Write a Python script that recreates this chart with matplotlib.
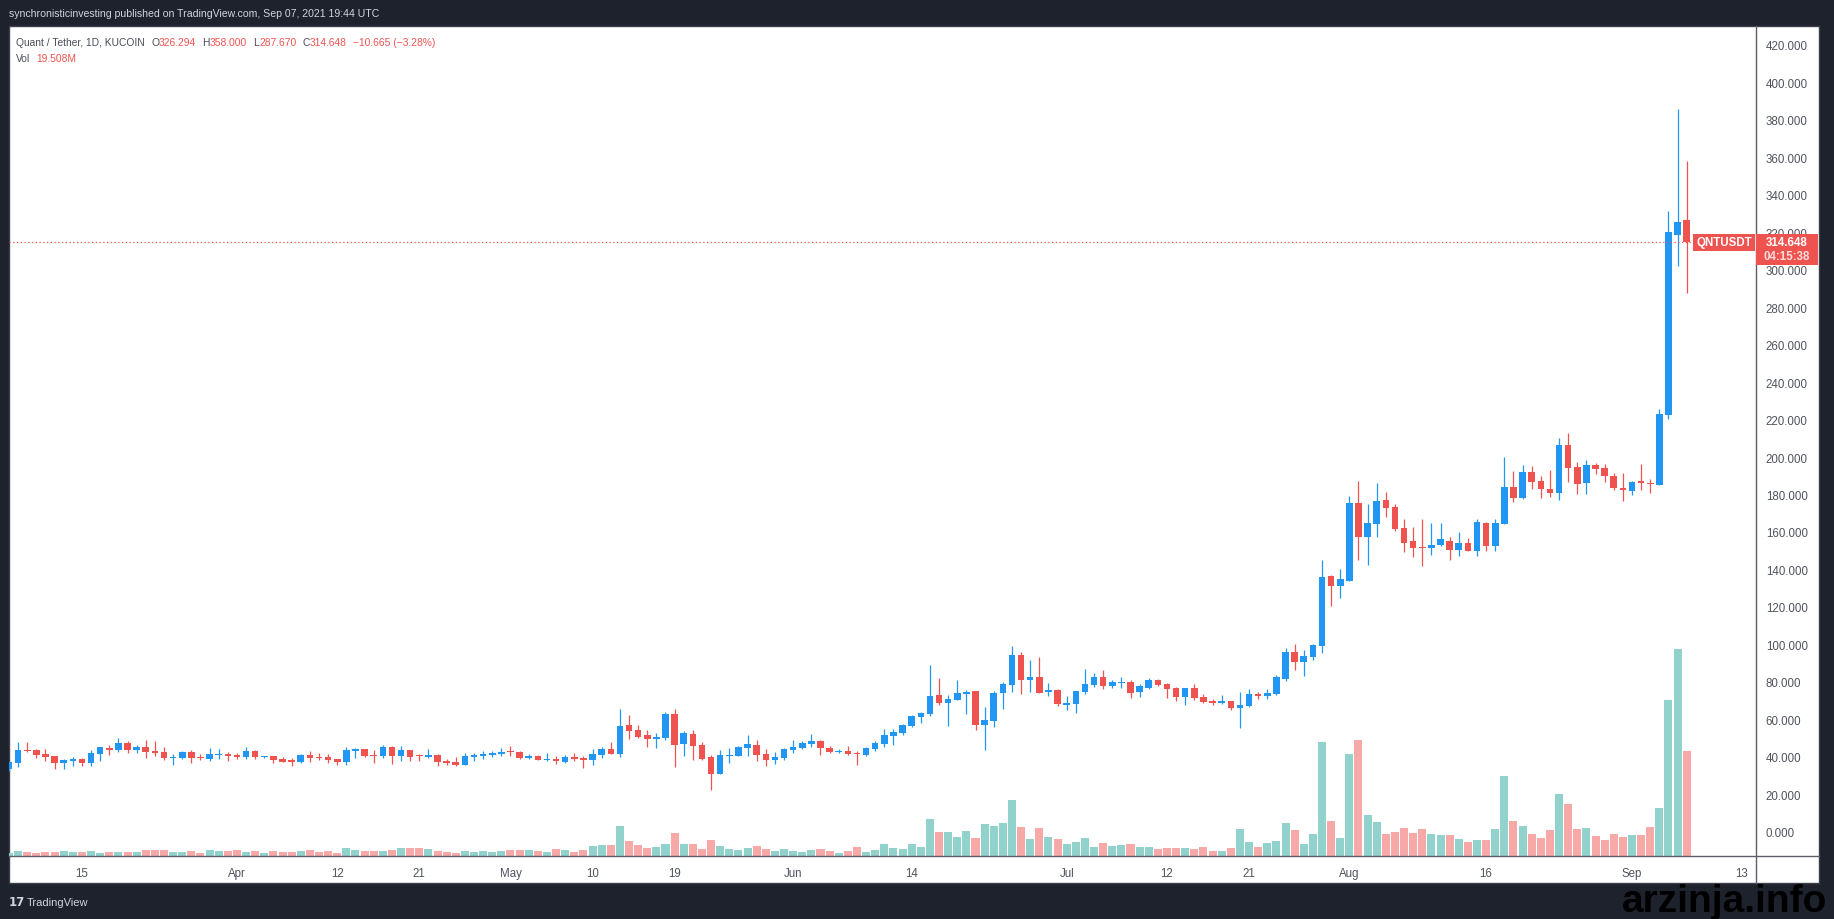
import matplotlib
matplotlib.use('Agg')
import matplotlib.pyplot as plt
from matplotlib.patches import Rectangle
from matplotlib.lines import Line2D
import numpy as np
import pandas as pd

plt.rcParams['font.family'] = ['Liberation Sans', 'DejaVu Sans']

# QNT/USDT daily candles, 2021-03-07 .. 2021-09-07 (volume in millions)
start_date = '2021-03-07'
opens = [
    33.5, 36.9, 43.6, 43.6, 41.5, 40.5, 36.9, 38.0, 38.9, 36.9,
    41.5, 44.7, 43.6, 47.4, 43.6, 45.2, 43.1, 42.6, 39.4, 39.4,
    42.6, 39.9, 38.9, 41.0, 41.5, 41.0, 39.9, 43.1, 39.9, 40.5,
    38.9, 38.3, 37.2, 41.0, 39.9, 39.9, 38.9, 37.2, 43.1, 44.2,
    41.0, 40.5, 45.2, 40.5, 43.6, 41.0, 39.9, 41.0, 37.8, 37.2,
    35.6, 39.9, 40.5, 41.0, 41.5, 42.6, 42.6, 39.4, 40.5, 38.3,
    38.9, 37.2, 39.9, 39.4, 38.3, 41.0, 44.2, 41.5, 57.0, 54.3,
    51.7, 49.5, 50.0, 62.9, 46.9, 52.2, 46.3, 39.9, 30.8, 40.5,
    40.5, 44.7, 46.3, 41.5, 38.3, 39.4, 43.6, 44.7, 46.9, 48.5,
    44.7, 42.6, 43.1, 42.0, 41.0, 44.2, 46.9, 51.1, 52.7, 56.5,
    61.3, 62.9, 73.0, 68.7, 70.3, 73.5, 75.1, 57.0, 59.1, 74.1,
    78.3, 94.3, 81.0, 82.6, 74.6, 75.7, 67.7, 68.2, 74.6, 78.3,
    82.6, 77.8, 79.6, 79.9, 74.6, 76.7, 81.0, 78.9, 76.7, 71.9,
    76.7, 71.9, 69.8, 68.7, 69.8, 66.1, 67.1, 73.5, 72.5, 73.5,
    81.5, 95.9, 90.6, 93.3, 99.1, 136.5, 131.2, 133.8, 175.4, 157.3,
    164.3, 177.1, 173.3, 162.1, 155.2, 152.0, 151.4, 153.0, 155.2, 150.4,
    154.1, 149.8, 164.8, 152.5, 164.3, 184.0, 178.1, 192.0, 187.2, 182.9,
    180.8, 206.4, 194.6, 186.1, 195.7, 194.1, 189.8, 183.4, 181.8, 187.2,
    186.1, 185.0, 222.4, 318.4, 326.294,
]
highs = [
    37.4, 48.1, 48.1, 44.2, 44.2, 40.5, 38.9, 40.1, 39.4, 43.6,
    45.2, 46.3, 50.1, 48.5, 46.3, 49.0, 48.5, 45.2, 41.5, 43.1,
    43.6, 41.5, 44.7, 44.2, 42.6, 42.1, 45.2, 43.6, 40.5, 40.5,
    39.9, 39.4, 41.5, 43.1, 42.1, 41.5, 38.9, 45.2, 44.7, 44.2,
    43.6, 46.3, 45.8, 45.8, 43.6, 41.5, 44.2, 41.5, 38.9, 39.9,
    42.1, 42.1, 43.1, 43.1, 44.7, 45.8, 43.1, 41.5, 41.0, 42.1,
    40.5, 41.0, 42.1, 40.5, 44.2, 45.2, 47.9, 65.5, 62.3, 57.0,
    54.3, 52.7, 63.9, 65.5, 53.8, 54.3, 47.9, 41.0, 43.6, 44.7,
    45.8, 51.7, 49.0, 44.2, 42.6, 44.7, 49.0, 48.5, 52.2, 49.0,
    45.8, 44.2, 45.8, 43.1, 45.2, 48.5, 54.9, 54.9, 57.5, 62.3,
    63.9, 89.0, 82.1, 73.0, 81.0, 75.7, 75.1, 66.6, 75.1, 79.9,
    99.1, 95.9, 91.7, 93.3, 79.4, 76.2, 72.5, 75.1, 86.9, 84.7,
    86.3, 81.0, 82.6, 81.0, 78.9, 82.1, 81.5, 79.4, 77.3, 76.7,
    78.9, 73.5, 70.9, 73.0, 69.8, 74.6, 76.2, 74.6, 76.2, 83.7,
    98.1, 100.2, 97.0, 100.2, 145.0, 137.0, 140.2, 179.2, 187.2, 174.9,
    186.1, 181.3, 174.9, 166.9, 162.6, 166.9, 164.8, 164.8, 157.3, 160.0,
    156.8, 166.9, 165.3, 166.9, 200.0, 192.5, 195.7, 195.2, 189.9, 193.1,
    210.1, 212.8, 197.3, 198.4, 196.8, 196.2, 191.4, 191.4, 187.2, 196.2,
    188.2, 225.6, 331.3, 385.7, 358.0,
]
lows = [
    32.6, 34.8, 42.8, 39.6, 38.0, 33.7, 33.7, 35.3, 35.3, 35.3,
    38.0, 41.0, 42.6, 42.1, 42.1, 39.4, 40.5, 38.3, 35.6, 38.9,
    36.9, 38.3, 38.0, 38.9, 37.8, 38.9, 38.9, 38.9, 39.4, 36.9,
    37.2, 35.3, 36.9, 37.2, 38.3, 36.9, 35.6, 35.6, 39.4, 39.9,
    36.7, 39.4, 36.2, 37.8, 37.8, 37.8, 39.4, 35.1, 35.6, 35.1,
    35.6, 37.8, 38.9, 39.9, 40.5, 40.5, 38.9, 38.9, 38.3, 37.8,
    36.2, 36.7, 37.8, 34.0, 35.6, 39.4, 41.5, 39.9, 49.5, 50.1,
    45.2, 44.7, 49.0, 34.6, 40.4, 38.3, 38.3, 22.3, 30.8, 36.7,
    40.5, 40.5, 37.8, 35.1, 36.2, 38.3, 42.0, 44.2, 45.2, 41.0,
    42.0, 42.0, 41.0, 35.6, 40.4, 43.1, 45.2, 46.3, 51.7, 55.9,
    58.1, 62.0, 67.7, 56.5, 70.3, 62.9, 54.3, 43.6, 55.9, 65.5,
    74.6, 73.5, 74.6, 74.1, 72.5, 67.1, 65.0, 63.4, 73.5, 77.3,
    76.2, 76.7, 76.7, 71.4, 71.9, 76.2, 77.8, 71.4, 69.8, 67.7,
    70.3, 68.7, 67.7, 68.2, 65.0, 55.4, 66.6, 70.9, 70.9, 73.0,
    80.5, 86.3, 83.1, 91.7, 95.4, 120.5, 124.8, 133.8, 145.0, 142.4,
    157.3, 168.0, 160.5, 149.3, 146.6, 141.8, 147.7, 152.5, 145.0, 147.2,
    149.8, 147.2, 149.8, 149.8, 164.3, 176.0, 177.6, 182.9, 178.1, 178.6,
    177.0, 186.6, 180.2, 180.2, 190.9, 186.6, 182.4, 176.5, 179.7, 182.4,
    180.8, 185.0, 220.3, 301.9, 287.67,
]
closes = [
    37.4, 43.6, 43.1, 41.2, 39.9, 36.9, 38.3, 38.9, 36.9, 42.1,
    45.2, 43.6, 47.4, 43.6, 45.2, 42.6, 42.1, 39.4, 39.9, 42.6,
    39.4, 39.4, 41.5, 41.5, 40.5, 39.9, 43.1, 39.9, 40.5, 38.3,
    37.2, 37.2, 41.0, 39.4, 39.4, 38.3, 37.2, 43.6, 44.2, 40.5,
    40.5, 45.2, 40.5, 43.6, 39.9, 40.5, 41.0, 37.2, 36.7, 35.6,
    40.5, 41.0, 41.5, 42.1, 42.6, 42.4, 39.4, 40.5, 38.3, 38.9,
    37.8, 39.9, 38.9, 38.3, 41.5, 44.2, 41.5, 56.5, 53.8, 50.6,
    49.5, 50.6, 62.9, 46.3, 52.7, 45.8, 38.8, 30.8, 41.0, 41.0,
    45.2, 46.9, 41.0, 38.3, 39.9, 44.2, 45.2, 47.4, 48.5, 44.7,
    42.6, 43.3, 41.5, 41.5, 44.7, 47.4, 51.7, 53.3, 57.0, 61.8,
    63.4, 72.5, 68.7, 70.9, 74.1, 74.6, 57.0, 59.7, 74.1, 78.9,
    94.3, 81.0, 82.6, 74.1, 75.7, 68.2, 68.7, 75.1, 78.9, 82.6,
    77.8, 79.9, 79.9, 74.1, 77.8, 81.0, 78.3, 76.2, 71.9, 76.7,
    71.4, 69.3, 68.7, 69.8, 66.1, 67.7, 73.5, 72.5, 74.1, 82.6,
    95.9, 90.6, 93.8, 99.7, 135.9, 131.2, 134.9, 175.4, 157.3, 164.8,
    176.5, 172.8, 161.6, 154.1, 151.4, 151.4, 153.0, 156.2, 150.4, 154.1,
    149.8, 165.3, 152.5, 164.8, 184.0, 178.1, 192.0, 186.7, 182.9, 180.8,
    206.4, 194.1, 185.6, 195.7, 193.6, 189.8, 183.4, 182.4, 186.6, 186.1,
    185.6, 222.9, 320.0, 325.313, 314.648,
]
volumes = [
    0.50, 0.87, 0.68, 0.50, 0.68, 0.68, 0.87, 0.68, 0.68, 0.87,
    0.50, 0.68, 0.68, 0.68, 0.68, 1.05, 1.05, 1.05, 0.68, 0.68,
    0.87, 0.50, 1.05, 0.87, 0.87, 1.05, 0.68, 0.87, 0.50, 0.87,
    0.68, 0.68, 0.87, 1.05, 0.68, 0.87, 0.50, 1.42, 1.05, 0.87,
    0.87, 0.87, 1.05, 1.42, 1.42, 1.42, 1.24, 0.87, 0.68, 0.50,
    0.87, 0.68, 0.87, 0.68, 0.87, 1.05, 1.05, 1.05, 0.87, 0.68,
    1.24, 1.05, 0.68, 1.05, 1.80, 1.98, 1.98, 5.51, 2.72, 1.98,
    1.45, 1.67, 2.23, 4.27, 2.23, 2.23, 1.30, 2.97, 1.86, 1.30,
    1.11, 1.49, 1.86, 1.30, 0.93, 1.30, 0.93, 0.74, 1.11, 1.30,
    0.93, 0.56, 0.93, 1.67, 0.74, 1.11, 2.23, 1.49, 1.30, 2.23,
    1.67, 6.87, 4.46, 4.46, 3.53, 4.65, 3.34, 5.95, 5.57, 6.13,
    10.40, 5.39, 3.16, 5.20, 3.53, 3.16, 2.23, 2.60, 3.34, 1.67,
    2.42, 1.86, 2.04, 2.23, 1.67, 1.67, 1.30, 1.49, 1.49, 1.49,
    1.30, 1.67, 0.93, 0.93, 1.49, 5.02, 2.60, 1.67, 2.42, 2.79,
    6.13, 4.83, 2.23, 4.09, 21.20, 6.50, 3.34, 18.95, 21.55, 7.62,
    6.32, 4.09, 4.46, 5.20, 4.27, 5.02, 4.09, 3.90, 3.90, 3.16,
    2.60, 2.97, 2.97, 5.02, 14.86, 6.50, 5.57, 4.09, 3.34, 4.83,
    11.52, 9.66, 5.02, 5.20, 3.72, 2.97, 4.09, 3.53, 3.90, 3.90,
    5.39, 8.92, 28.98, 38.46, 19.508,
]

tick_dates = ['2021-03-15', '2021-04-01', '2021-04-12', '2021-04-21', '2021-05-01',
              '2021-05-10', '2021-05-19', '2021-06-01', '2021-06-14', '2021-07-01',
              '2021-07-12', '2021-07-21', '2021-08-01', '2021-08-16', '2021-09-01',
              '2021-09-13']
tick_labels = ['15', 'Apr', '12', '21', 'May', '10', '19', 'Jun', '14', 'Jul',
               '12', '21', 'Aug', '16', 'Sep', '13']
price_ticks = np.arange(0, 421, 20)

header = 'synchronisticinvesting published on TradingView.com, Sep 07, 2021 19:44 UTC'
symbol_title = 'Quant / Tether, 1D, KUCOIN'
countdown = '04:15:38'

UP = '#2196f3'
DOWN = '#ef5350'
VOL_UP = '#92d2cc'
VOL_DOWN = '#f7a9a7'
DARK = '#1e222d'
AXIS_TXT = '#50535e'
LEGEND_TXT = '#4a4e59'

W, H = 1834, 920

o = np.array(opens)
h = np.array(highs)
l = np.array(lows)
c = np.array(closes)
v = np.array(volumes)
days = pd.date_range(start_date, periods=len(o), freq='D')
x = np.arange(len(o))
up = c >= o
candle_col = np.where(up, UP, DOWN)
vol_col = np.where(up, VOL_UP, VOL_DOWN)
tick_pos = [(pd.Timestamp(d) - days[0]).days for d in tick_dates]


def fx(px):
    return px / W


def fy(py):
    return 1 - py / H


fig = plt.figure(figsize=(W / 100, H / 100), dpi=100, facecolor=DARK)

# white chart panel
fig.patches.append(Rectangle((fx(9), fy(884)), fx(1819) - fx(9), fy(27) - fy(884),
                             transform=fig.transFigure, facecolor='white',
                             edgecolor='#3c404b', lw=1, zorder=-1))

pos = [fx(9), fy(857), fx(1756) - fx(9), fy(27) - fy(857)]
ax_vol = fig.add_axes(pos)
ax = fig.add_axes(pos)
for a in (ax_vol, ax):
    a.set_facecolor('none')
    for s in a.spines.values():
        s.set_visible(False)
    a.set_xlim(0, 191.6)

# volume underlay
ax_vol.bar(x, v, width=0.88, color=vol_col, linewidth=0)
ax_vol.set_ylim(0, v.max() / 0.25)
ax_vol.set_xticks([])
ax_vol.set_yticks([])

# candles
body = np.maximum(np.abs(c - o), 0.55)
ax.vlines(x, l, h, colors=candle_col, lw=0.9)
ax.bar(x, body, bottom=np.minimum(o, c), width=0.72, color=candle_col, linewidth=0)
ax.set_ylim(-12.9, 430.0)

ax.yaxis.tick_right()
ax.set_yticks(price_ticks)
ax.set_yticklabels([f'{p:.3f}' for p in price_ticks])
ax.tick_params(axis='y', length=0, pad=7, labelsize=8.3, labelcolor=AXIS_TXT)
ax.set_xticks(tick_pos)
ax.set_xticklabels(tick_labels)
ax.tick_params(axis='x', length=0, pad=8, labelsize=8.3, labelcolor=AXIS_TXT)

# last price line
last = c[-1]
ax.axhline(last, xmax=(1693 - 9) / (1756 - 9), color=DOWN, lw=0.9, ls=(0, (1, 2)))

# axis border lines
fig.add_artist(Line2D([fx(1756), fx(1756)], [fy(27), fy(884)], transform=fig.transFigure,
                      color='#5d606b', lw=1))
fig.add_artist(Line2D([fx(9), fx(1819)], [fy(857), fy(857)], transform=fig.transFigure,
                      color='#5d606b', lw=1))

# price labels on the right
y_last = ax.transData.transform((0, last))[1]
fig.patches.append(Rectangle((fx(1693), (y_last - 8.5) / H), fx(62), 17 / H,
                             transform=fig.transFigure, facecolor=DOWN, edgecolor='none', zorder=4))
fig.text(fx(1724), y_last / H, 'QNTUSDT', color='white', fontsize=8.3, fontweight='bold',
         ha='center', va='center', zorder=5)
fig.patches.append(Rectangle((fx(1756), (y_last - 22.5) / H), fx(62), 31 / H,
                             transform=fig.transFigure, facecolor=DOWN, edgecolor='none', zorder=4))
fig.text(fx(1787), y_last / H, f'{last:.3f}', color='white', fontsize=8.3, fontweight='bold',
         ha='center', va='center', zorder=5)
fig.text(fx(1787), (y_last - 14) / H, countdown, color='#fcdcdb', fontsize=8.3,
         fontweight='bold', ha='center', va='center', zorder=5)

# header and legend
fig.text(fx(9), fy(14), header, color='#d1d4dc', fontsize=7.6, va='center')


def text_row(pieces, x0, y0, size=7.4):
    t = fig.text(fx(x0), fy(y0), pieces[0][0], color=pieces[0][1], fontsize=size, va='center')
    for s, col, gap in pieces[1:]:
        t = ax.annotate(s, xy=(1, 0), xycoords=t, xytext=(gap, 0), textcoords='offset points',
                        color=col, fontsize=size, va='bottom', ha='left', annotation_clip=False)
    return t


chg = c[-1] - c[-2]
pct = chg / c[-2] * 100
text_row([(symbol_title, LEGEND_TXT),
          ('O', LEGEND_TXT, 4.5), (f'{o[-1]:.3f}', DOWN, 0),
          ('H', LEGEND_TXT, 4.5), (f'{h[-1]:.3f}', DOWN, 0),
          ('L', LEGEND_TXT, 4.5), (f'{l[-1]:.3f}', DOWN, 0),
          ('C', LEGEND_TXT, 4.5), (f'{c[-1]:.3f}', DOWN, 0),
          (f'\u2212{abs(chg):.3f} (\u2212{abs(pct):.2f}%)', DOWN, 4.5)], 16, 42.5)
text_row([('Vol', LEGEND_TXT), (f'{v[-1]:.3f}M', DOWN, 4.5)], 16, 59.5)

# footer
fig.text(fx(9), fy(903), '17', color='#d1d4dc', fontsize=8.5, fontweight='bold',
         family='DejaVu Sans', va='center')
fig.text(fx(27), fy(903), 'TradingView', color='#d1d4dc', fontsize=8, va='center')
fig.text(fx(1827), fy(912), 'arzinja.info', color='black', fontsize=28, fontweight='bold',
         ha='right', va='baseline')

fig.savefig('out.png', dpi=100, facecolor=DARK)
